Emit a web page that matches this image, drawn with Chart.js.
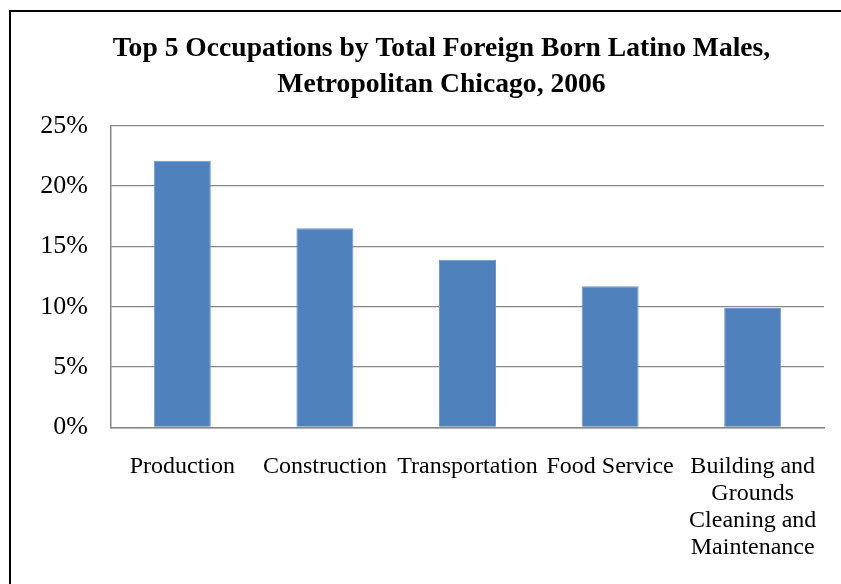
<!DOCTYPE html>
<html>
<head>
<meta charset="utf-8">
<script src="https://cdn.jsdelivr.net/npm/chart.js@4/dist/chart.umd.min.js"></script>
<style>
  body { margin: 0; background: #fff; }
  .frame { position: absolute; left: 9px; top: 10px; width: 900px; height: 650px; border: 2px solid #000; }
  .wrap { position: absolute; left: 0; top: 0; width: 841px; height: 584px; }
</style>
</head>
<body>
<div class="frame"></div>
<div class="wrap"><canvas id="chart"></canvas></div>
<script>
const occupations = [
  "Production",
  "Construction",
  "Transportation",
  "Food Service",
  ["Building and", "Grounds", "Cleaning and", "Maintenance"],
];
const shares = [22.1, 16.5, 13.9, 11.7, 9.9];
const yTicks = [0, 5, 10, 15, 20, 25];

const SERIF = "'Liberation Serif', 'Times New Roman', serif";
const GRID = "#868686";

// the title in the original sits a little right of the canvas centre
const titleShift = {
  id: "titleShift",
  afterLayout(chart) {
    chart.titleBlock.left += 10;
    chart.titleBlock.right += 10;
  },
};

const ctx = document.getElementById("chart").getContext("2d");

new Chart(ctx, {
  type: "bar",
  data: {
    labels: occupations,
    datasets: [
      {
        data: shares,
        backgroundColor: "#4F81BD",
        borderColor: "#6F97CB",
        borderWidth: 1,
        barPercentage: 0.4,
        categoryPercentage: 1,
      },
    ],
  },
  plugins: [titleShift],
  options: {
    responsive: true,
    maintainAspectRatio: false,
    animation: false,
    layout: { padding: { left: 39, right: 17, top: 0, bottom: -3 } },
    plugins: {
      legend: { display: false },
      tooltip: { enabled: false },
      title: {
        display: true,
        text: [
          "Top 5 Occupations by Total Foreign Born Latino Males,",
          "Metropolitan Chicago, 2006",
        ],
        color: "#000",
        font: { family: SERIF, size: 27.6, weight: "bold", lineHeight: 1.3 },
        padding: { top: 31, bottom: 23 },
      },
    },
    scales: {
      x: {
        afterFit: (scale) => {
          // labels fit inside their categories, no extra side room needed
          scale.paddingLeft = 0;
          scale.paddingRight = 0;
        },
        grid: { display: false, drawTicks: false },
        border: { display: true, color: GRID, width: 1.5 },
        ticks: {
          color: "#000",
          font: { family: SERIF, size: 24, lineHeight: 1.12 },
          padding: 26,
          maxRotation: 0,
          autoSkip: false,
        },
      },
      y: {
        min: 0,
        max: 25,
        afterBuildTicks: (scale) => {
          scale.ticks = yTicks.map((v) => ({ value: v }));
        },
        afterFit: (scale) => {
          scale.width = 72;
        },
        grid: { color: GRID, lineWidth: 1.3, drawTicks: false },
        border: { display: true, color: GRID, width: 1.5 },
        ticks: {
          color: "#000",
          font: { family: SERIF, size: 26 },
          padding: 23,
          callback: (v) => v + "%",
        },
      },
    },
  },
});
</script>
</body>
</html>
